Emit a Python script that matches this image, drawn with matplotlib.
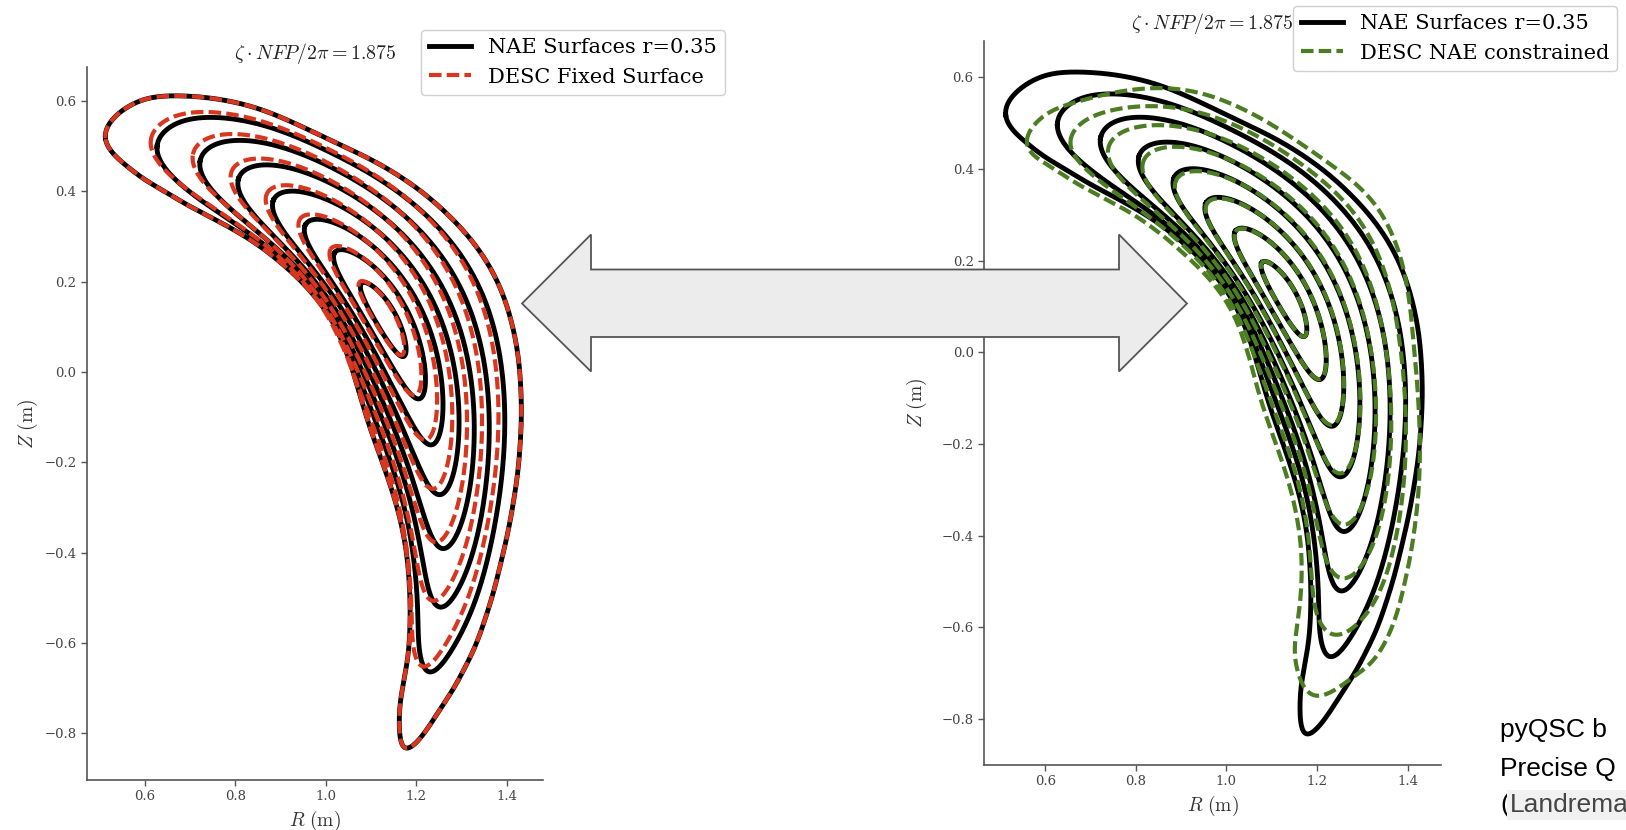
import numpy as np
import matplotlib
matplotlib.use("Agg")
import matplotlib.pyplot as plt
from matplotlib.patches import Polygon

# ---------------- data ----------------
surface_rho = [1.0, 0.875, 0.75, 0.625, 0.5, 0.375, 0.25, 0.125]   # r / 0.35
axis_R, axis_Z = 1.13, 0.12          # magnetic axis
bend_R, bend_Z = 0.08, -0.54         # centre of curvature of the crescent

# outer NAE surface (r = 0.35), clockwise from the left tip
nae_outer_R = [0.512, 0.552, 0.685, 0.847, 0.994, 1.141, 1.289, 1.362, 1.408, 1.432,
               1.421, 1.385, 1.326, 1.237, 1.171, 1.164, 1.178, 1.186, 1.171, 1.141,
               1.090, 1.011, 0.920, 0.810, 0.714, 0.626, 0.537]
nae_outer_Z = [0.518, 0.580, 0.611, 0.584, 0.521, 0.447, 0.329, 0.233, 0.120, -0.062,
               -0.247, -0.431, -0.616, -0.771, -0.830, -0.800, -0.653, -0.505, -0.357, -0.246,
               -0.099, 0.117, 0.225, 0.307, 0.359, 0.410, 0.477]

# outer DESC "NAE constrained" surface, clockwise from the left tip
desc_nae_outer_R = [0.559, 0.588, 0.662, 0.773, 0.920, 1.067, 1.214, 1.325, 1.380, 1.412,
                    1.427, 1.421, 1.391, 1.324, 1.251, 1.191, 1.162, 1.158, 1.165, 1.130,
                    1.075, 1.000, 0.905, 0.795, 0.699, 0.611]
desc_nae_outer_Z = [0.461, 0.508, 0.544, 0.570, 0.570, 0.515, 0.421, 0.326, 0.220, 0.034,
                    -0.190, -0.337, -0.514, -0.671, -0.728, -0.748, -0.709, -0.582, -0.435, -0.260,
                    -0.100, 0.110, 0.216, 0.300, 0.352, 0.405]

# DESC fixed-surface offsets from the NAE surfaces (per surface)
desc_fixed_dR = [0.000, -0.014, -0.016, -0.016, -0.015, -0.013, -0.009, -0.004]
desc_fixed_dZ = [0.000, 0.012, 0.014, 0.014, 0.013, 0.011, 0.008, 0.003]

x_ticks = [0.6, 0.8, 1.0, 1.2, 1.4]
y_ticks = [-0.8, -0.6, -0.4, -0.2, 0.0, 0.2, 0.4, 0.6]
title_text = r'$\zeta \cdot NFP/2\pi = 1.875$'
label_nae = 'NAE Surfaces r=0.35'
label_fixed = 'DESC Fixed Surface'
label_constrained = 'DESC NAE constrained'
note_lines = ['pyQSC b', 'Precise Q']
note_paren = '('
note_ref = 'Landrema'

# ---------------- model helpers ----------------
NH = 30
ALPHA = 0.72
NS = 1024

s_axis = np.hypot(axis_R - bend_R, axis_Z - bend_Z)
phi_axis = np.arctan2(axis_Z - bend_Z, axis_R - bend_R)


def to_uv(R, Z):
    dR = np.asarray(R, float) - bend_R
    dZ = np.asarray(Z, float) - bend_Z
    return s_axis * (np.arctan2(dZ, dR) - phi_axis), np.hypot(dR, dZ) - s_axis


def from_uv(u, v):
    phi = phi_axis + u / s_axis
    s = s_axis + v
    return bend_R + s * np.cos(phi), bend_Z + s * np.sin(phi)


def smooth_closed(x, y, n_out=NS):
    """periodic cubic spline through the read boundary points (chord parameter)"""
    P = np.column_stack([x, y]).astype(float)
    n = len(P)
    h = np.hypot(*np.diff(np.vstack([P, P[:1]]), axis=0).T)
    t = np.r_[0, np.cumsum(h)]
    A = np.zeros((n, n))
    rhs = np.zeros((n, 2))
    for i in range(n):
        im, ip = (i - 1) % n, (i + 1) % n
        A[i, im] += h[im]
        A[i, i] += 2 * (h[im] + h[i])
        A[i, ip] += h[i]
        rhs[i] = 6 * ((P[ip] - P[i]) / h[i] - (P[i] - P[im]) / h[im])
    M = np.linalg.solve(A, rhs)
    tt = np.linspace(0, t[-1], n_out, endpoint=False)
    idx = np.clip(np.searchsorted(t, tt, side='right') - 1, 0, n - 1)
    ip = (idx + 1) % n
    hi = h[idx][:, None]
    a = t[idx + 1][:, None] - tt[:, None]
    b = tt[:, None] - t[idx][:, None]
    S = (M[idx] * a ** 3 + M[ip] * b ** 3) / (6 * hi) \
        + (P[idx] / hi - M[idx] * hi / 6) * a + (P[ip] / hi - M[ip] * hi / 6) * b
    return S[:, 0], S[:, 1]


def harmonics(x, nh=NH):
    c = np.fft.rfft(x) / len(x)
    return np.r_[c[0].real], 2 * c[1:nh + 1].real, -2 * c[1:nh + 1].imag


def fit_boundary(R, Z):
    u, v = smooth_closed(*to_uv(R, Z))
    return harmonics(u), harmonics(v)


def blend(c1, c2, w):
    return tuple(a + w * (b - a) for a, b in zip(c1, c2))


def eval_uv(cu, cv, rho, th, nh=NH, alpha=ALPHA):
    m = np.arange(1, nh + 1)
    f = rho ** (1 + alpha * (m - 1))
    C = np.cos(np.outer(th, m))
    S = np.sin(np.outer(th, m))
    u = rho ** 2 * cu[0][0] + C @ (f * cu[1]) + S @ (f * cu[2])
    v = rho ** 2 * cv[0][0] + C @ (f * cv[1]) + S @ (f * cv[2])
    return u, v


theta = np.linspace(0, 2 * np.pi, 900)
bu, bv = fit_boundary(nae_outer_R, nae_outer_Z)
gu, gv = fit_boundary(desc_nae_outer_R, desc_nae_outer_Z)

# ---------------- figure ----------------
plt.rcParams['font.family'] = ['DejaVu Serif']
plt.rcParams['mathtext.fontset'] = 'cm'

BLACK_LW = 3.5
DASH_LW = 3.0
DASH = (0, (3.0, 1.25))
RED = '#d9361f'
GREEN = '#4b7d23'
SPINE = '#555555'

fig = plt.figure(figsize=(16.26, 8.30), dpi=100)
ax1 = fig.add_axes([0.0535, 0.0602, 0.2804, 0.859])
ax2 = fig.add_axes([0.6052, 0.0783, 0.2811, 0.8723])

for i, rho in enumerate(surface_rho):
    R, Z = from_uv(*eval_uv(bu, bv, rho, theta))
    ax1.plot(R, Z, color='black', lw=BLACK_LW, zorder=2, label=label_nae if i == 0 else None)
    ax1.plot(R + desc_fixed_dR[i], Z + desc_fixed_dZ[i], color=RED, lw=DASH_LW, ls=DASH,
             zorder=3, label=label_fixed if i == 0 else None)
    ax2.plot(R, Z, color='black', lw=BLACK_LW, zorder=2, label=label_nae if i == 0 else None)
    w = rho ** 2
    gR, gZ = from_uv(*eval_uv(blend(bu, gu, w), blend(bv, gv, w), rho, theta))
    ax2.plot(gR, gZ, color=GREEN, lw=DASH_LW, ls=DASH, zorder=3,
             label=label_constrained if i == 0 else None)

ax1.set_xlim(0.472, 1.48)
ax1.set_ylim(-0.903, 0.675)
ax2.set_xlim(0.465, 1.474)
ax2.set_ylim(-0.900, 0.679)

for ax, pad, ylpad in ((ax1, 6, 3), (ax2, 9, 9)):
    ax.set_xticks(x_ticks)
    ax.set_yticks(y_ticks)
    for s in ('top', 'right'):
        ax.spines[s].set_visible(False)
    for s in ('left', 'bottom'):
        ax.spines[s].set_color(SPINE)
        ax.spines[s].set_linewidth(1.2)
    ax.tick_params(colors=SPINE, labelcolor='#444444', labelsize=9.5, length=4, width=1)
    ax.set_xlabel(r'$R\ (\mathrm{m})$', fontsize=14, color='#333333')
    ax.set_ylabel(r'$Z\ (\mathrm{m})$', fontsize=14, color='#333333', labelpad=ylpad)
    ax.set_title(title_text, fontsize=14.3, color='#222222', pad=pad)

leg_kw = dict(loc='upper left', fontsize=15, borderaxespad=0, frameon=True,
              edgecolor='#d0d0d0', framealpha=1.0, fancybox=True,
              bbox_transform=fig.transFigure)
ax1.legend(bbox_to_anchor=(421 / 1626, 1 - 30 / 830), **leg_kw)
ax2.legend(bbox_to_anchor=(1293 / 1626, 1 - 6 / 830), **leg_kw)

# double arrow between the panels (figure pixel geometry)
W, H = 1626.0, 830.0
arrow_px = [(522, 303.5), (591, 234.5), (591, 269.5), (1119, 269.5), (1119, 234.5),
            (1187, 303.5), (1119, 371.5), (1119, 337), (591, 337), (591, 371.5)]
arrow = Polygon([(x / W, 1 - y / H) for x, y in arrow_px], closed=True,
                transform=fig.transFigure, facecolor='#ececec', edgecolor='#555555',
                lw=1.3, zorder=10)
fig.add_artist(arrow)

# reference note at bottom right
note_kw = dict(fontsize=19, family='Liberation Sans', va='baseline', ha='left', color='black')
fig.text(1500 / W, 1 - 737 / H, note_lines[0], **note_kw)
fig.text(1500 / W, 1 - 776 / H, note_lines[1], **note_kw)
fig.text(1500 / W, 1 - 812 / H, note_paren, **note_kw)
fig.text(1510 / W, 1 - 812 / H, note_ref, fontsize=19, family='Liberation Sans',
         va='baseline', ha='left', color='#444444',
         bbox=dict(facecolor='#f1f1f1', edgecolor='none', pad=2))

fig.savefig('out.png', dpi=100)
